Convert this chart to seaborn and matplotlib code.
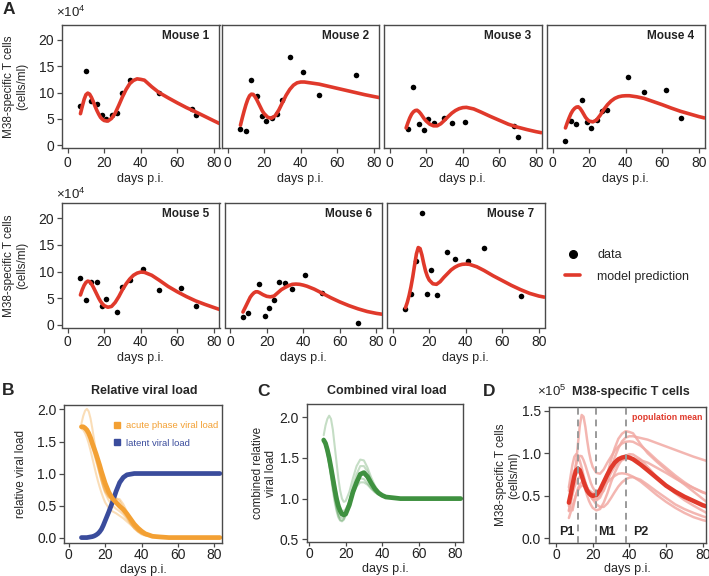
import numpy as np
import pandas as pd
import seaborn as sns
import matplotlib.pyplot as plt
from matplotlib.lines import Line2D

# ---------------- data ----------------
# model curves share one day grid
fit_days = [7, 8, 9, 10, 11, 12, 13, 14, 15, 16, 17, 18, 19, 20, 22, 24, 26, 28, 30,
            32, 34, 36, 38, 40, 42, 46, 50, 55, 60, 65, 70, 75, 80, 83]
nan = np.nan

# panel A: observed M38-specific T cells (x10^4 cells/ml) and model fits
m1_days = [7, 10, 12.5, 16, 19, 21, 24, 27, 30, 34, 50, 68, 70]
m1_obs = [7.5, 14.1, 8.4, 7.8, 5.8, 5.0, 5.7, 6.2, 10.0, 12.4, 9.9, 6.8, 5.8]
m1_fit = [6.0, 7.4, 8.7, 9.6, 9.9, 9.7, 9.1, 8.3, 7.4, 6.6, 5.9, 5.3, 4.95, 4.7, 4.6, 5.1, 6.1,
          7.6, 9.2, 10.6, 11.7, 12.3, 12.6, 12.5, 12.35, 11.1, 10.0, 9.0, 8.05, 7.15, 6.35, 5.5, 4.65, 4.15]

m2_days = [7, 10, 13, 16, 19, 21, 24, 27, 30, 34, 41, 50, 70]
m2_obs = [3.1, 2.8, 12.3, 9.3, 5.5, 4.6, 5.1, 5.9, 8.5, 16.7, 13.9, 9.5, 13.4]
m2_fit = [3.8, 5.2, 6.5, 7.7, 8.7, 9.4, 9.7, 9.65, 9.2, 8.6, 7.9, 7.2, 6.5, 6.0, 5.3, 5.15, 5.6,
          6.7, 8.1, 9.5, 10.6, 11.4, 11.85, 12.0, 12.0, 11.8, 11.6, 11.2, 10.8, 10.4, 10.0, 9.6, 9.25, 9.05]

m3_days = [10, 12.5, 16, 19, 21, 24, 30, 34, 41, 68, 70]
m3_obs = [3.1, 11.1, 4.1, 3.0, 5.0, 4.2, 5.1, 4.3, 4.5, 3.6, 1.6]
m3_fit = [nan, nan, 3.3, 4.3, 5.2, 5.9, 6.35, 6.6, 6.65, 6.4, 6.0, 5.5, 5.0, 4.6, 4.0, 3.7, 3.7,
          4.1, 4.75, 5.45, 6.1, 6.6, 6.95, 7.15, 7.2, 6.9, 6.3, 5.5, 4.75, 4.0, 3.45, 3.0, 2.6, 2.4]

m4_days = [7, 10, 13, 16, 19, 21, 24, 27, 30, 41, 50, 62, 70]
m4_obs = [0.8, 4.7, 4.1, 8.5, 4.5, 3.2, 4.8, 6.5, 6.7, 12.9, 10.2, 10.4, 5.1]
m4_fit = [3.3, 4.3, 5.2, 6.0, 6.6, 7.0, 7.25, 7.3, 7.0, 6.5, 5.9, 5.3, 4.9, 4.6, 4.45, 4.8, 5.7,
          6.8, 7.7, 8.4, 8.9, 9.2, 9.35, 9.4, 9.4, 9.2, 8.9, 8.3, 7.7, 7.05, 6.45, 5.95, 5.45, 5.2]

m5_days = [7, 10, 13, 16, 19, 21, 27, 30, 34, 41, 50, 62, 70]
m5_obs = [8.7, 4.6, 8.0, 8.0, 3.6, 4.9, 2.5, 7.1, 8.4, 10.4, 6.6, 7.0, 3.6]
m5_fit = [5.6, 6.6, 7.4, 7.95, 8.2, 8.1, 7.7, 7.1, 6.4, 5.7, 5.0, 4.4, 3.95, 3.6, 3.3, 3.45, 4.2,
          5.3, 6.6, 7.7, 8.6, 9.3, 9.7, 9.9, 9.85, 9.3, 8.4, 7.2, 6.2, 5.3, 4.5, 3.85, 3.25, 2.9]

m6_days = [7, 10, 16, 19, 21, 24, 27, 30, 34, 41, 50, 70]
m6_obs = [1.5, 2.2, 7.6, 1.6, 3.2, 4.6, 8.0, 7.9, 6.8, 9.3, 6.0, 0.3]
m6_fit = [2.4, 3.1, 3.8, 4.5, 5.2, 5.65, 6.0, 6.2, 6.2, 6.05, 5.85, 5.65, 5.5, 5.35, 5.25, 5.4, 6.0,
          6.6, 7.0, 7.35, 7.6, 7.65, 7.6, 7.45, 7.25, 6.7, 6.0, 5.1, 4.3, 3.6, 3.0, 2.5, 2.15, 2.0]

m7_days = [7, 10, 13, 16, 19, 21, 24, 30, 34, 41, 50, 70]
m7_obs = [2.9, 5.8, 12.0, 20.9, 5.8, 10.3, 5.6, 13.6, 12.3, 11.9, 14.5, 5.5]
m7_fit = [3.2, 4.2, 5.5, 7.1, 9.0, 11.2, 13.3, 14.5, 14.3, 13.1, 11.5, 10.1, 9.1, 8.4, 7.7, 7.6, 8.1,
          8.9, 9.6, 10.3, 10.8, 11.15, 11.35, 11.4, 11.35, 10.9, 10.2, 9.2, 8.3, 7.4, 6.6, 5.9, 5.4, 5.2]

# panel B: relative viral load
acute_mean = [1.73, 1.73, 1.71, 1.68, 1.63, 1.56, 1.47, 1.39, 1.31, 1.22, 1.13, 1.03, 0.94, 0.85, 0.71,
              0.61, 0.55, 0.49, 0.44, 0.37, 0.29, 0.21, 0.15, 0.1, 0.06, 0.02, 0.01, 0, 0, 0, 0, 0, 0, 0]
acute_mice = [
    [1.78, 1.9, 1.98, 2.01, 1.97, 1.86, 1.7, 1.52, 1.33, 1.16, 1.02, 0.9, 0.8, 0.72, 0.63, 0.6, 0.61,
     0.57, 0.46, 0.33, 0.22, 0.14, 0.09, 0.05, 0.03, 0.01, 0, 0, 0, 0, 0, 0, 0, 0],
    [1.72, 1.72, 1.7, 1.66, 1.6, 1.52, 1.43, 1.33, 1.22, 1.11, 1.0, 0.9, 0.81, 0.73, 0.64, 0.6, 0.61,
     0.6, 0.52, 0.4, 0.28, 0.18, 0.11, 0.07, 0.04, 0.02, 0.01, 0, 0, 0, 0, 0, 0, 0],
    [1.7, 1.68, 1.63, 1.56, 1.47, 1.36, 1.24, 1.12, 1.0, 0.89, 0.79, 0.7, 0.62, 0.55, 0.46, 0.41, 0.38,
     0.34, 0.3, 0.25, 0.2, 0.15, 0.1, 0.07, 0.05, 0.02, 0.01, 0, 0, 0, 0, 0, 0, 0],
    [1.75, 1.74, 1.72, 1.68, 1.62, 1.54, 1.45, 1.35, 1.25, 1.14, 1.03, 0.93, 0.84, 0.76, 0.65, 0.57, 0.52,
     0.46, 0.39, 0.31, 0.23, 0.16, 0.1, 0.06, 0.04, 0.02, 0.01, 0, 0, 0, 0, 0, 0, 0],
    [1.72, 1.71, 1.68, 1.63, 1.57, 1.49, 1.4, 1.3, 1.2, 1.1, 0.99, 0.88, 0.78, 0.7, 0.58, 0.5, 0.45,
     0.41, 0.36, 0.29, 0.22, 0.15, 0.1, 0.06, 0.04, 0.02, 0.01, 0, 0, 0, 0, 0, 0, 0],
]
latent = [0, 0, 0, 0, 0.005, 0.01, 0.015, 0.025, 0.04, 0.06, 0.09, 0.13, 0.19, 0.26, 0.4, 0.55, 0.72,
          0.86, 0.94, 0.98, 0.99, 1.0, 1.0, 1.0, 1.0, 1.0, 1.0, 1.0, 1.0, 1.0, 1.0, 1.0, 1.0, 1.0]

# panel C: combined viral load
combined_mean = [nan, 1.72, 1.68, 1.6, 1.5, 1.38, 1.25, 1.12, 1.0, 0.91, 0.85, 0.81, 0.8, 0.81, 0.92,
                 1.08, 1.2, 1.3, 1.32, 1.27, 1.19, 1.12, 1.07, 1.04, 1.02, 1.01, 1.0, 1.0, 1.0, 1.0,
                 1.0, 1.0, 1.0, 1.0]
combined_mice = [
    [nan, 1.78, 1.9, 1.98, 2.02, 1.98, 1.85, 1.65, 1.45, 1.25, 1.1, 1.0, 0.96, 0.97, 1.08, 1.25, 1.4,
     1.48, 1.47, 1.38, 1.26, 1.16, 1.09, 1.05, 1.03, 1.01, 1.0, 1.0, 1.0, 1.0, 1.0, 1.0, 1.0, 1.0],
    [nan, 1.72, 1.66, 1.56, 1.42, 1.26, 1.1, 0.96, 0.85, 0.77, 0.73, 0.72, 0.74, 0.79, 0.95, 1.15, 1.3,
     1.4, 1.4, 1.33, 1.22, 1.13, 1.07, 1.04, 1.02, 1.0, 1.0, 1.0, 1.0, 1.0, 1.0, 1.0, 1.0, 1.0],
    [nan, 1.7, 1.64, 1.55, 1.43, 1.29, 1.14, 1.0, 0.88, 0.79, 0.74, 0.73, 0.75, 0.8, 0.93, 1.06, 1.15,
     1.2, 1.2, 1.17, 1.12, 1.08, 1.05, 1.03, 1.02, 1.01, 1.0, 1.0, 1.0, 1.0, 1.0, 1.0, 1.0, 1.0],
    [nan, 1.74, 1.7, 1.63, 1.54, 1.43, 1.31, 1.18, 1.06, 0.96, 0.89, 0.85, 0.85, 0.87, 0.96, 1.1, 1.22,
     1.29, 1.3, 1.25, 1.18, 1.11, 1.06, 1.03, 1.02, 1.01, 1.0, 1.0, 1.0, 1.0, 1.0, 1.0, 1.0, 1.0],
    [nan, 1.72, 1.67, 1.58, 1.46, 1.32, 1.17, 1.03, 0.91, 0.82, 0.77, 0.76, 0.78, 0.83, 0.97, 1.12, 1.21,
     1.25, 1.24, 1.19, 1.13, 1.08, 1.05, 1.03, 1.02, 1.01, 1.0, 1.0, 1.0, 1.0, 1.0, 1.0, 1.0, 1.0],
]

# panel D: population mean (x10^5 cells/ml); thin lines are the mouse fits above
pop_mean = [0.42, 0.52, 0.63, 0.73, 0.8, 0.82, 0.8, 0.74, 0.67, 0.61, 0.56, 0.53, 0.51, 0.5, 0.51, 0.57,
            0.66, 0.75, 0.83, 0.89, 0.93, 0.95, 0.96, 0.95, 0.93, 0.87, 0.8, 0.71, 0.62, 0.55, 0.49,
            0.44, 0.39, 0.37]
phase_days = [12.0, 21.6, 38.2]
phase_names = ["P1", "M1", "P2"]
phase_label_days = [6.0, 27.5, 46.0]

mouse_names = ["Mouse 1", "Mouse 2", "Mouse 3", "Mouse 4", "Mouse 5", "Mouse 6", "Mouse 7"]
mouse_obs = [(m1_days, m1_obs), (m2_days, m2_obs), (m3_days, m3_obs), (m4_days, m4_obs),
             (m5_days, m5_obs), (m6_days, m6_obs), (m7_days, m7_obs)]
mouse_fits = [m1_fit, m2_fit, m3_fit, m4_fit, m5_fit, m6_fit, m7_fit]

# ---------------- style ----------------
sns.set_style("ticks")
plt.rcParams['font.family'] = ['Liberation Sans', 'DejaVu Sans']
plt.rcParams['mathtext.fontset'] = 'custom'
plt.rcParams['mathtext.rm'] = 'Liberation Sans'
plt.rcParams['mathtext.default'] = 'regular'
plt.rcParams.update({
    "axes.edgecolor": "#4a4a4a", "axes.linewidth": 1.0,
    "xtick.color": "#4a4a4a", "ytick.color": "#4a4a4a",
    "xtick.labelcolor": "#222222", "ytick.labelcolor": "#222222",
    "xtick.major.size": 3.6, "ytick.major.size": 3.6,
    "xtick.major.width": 0.9, "ytick.major.width": 0.9,
    "xtick.major.pad": 2, "ytick.major.pad": 2,
    "xtick.labelsize": 10, "ytick.labelsize": 10,
})

RED = "#e0392b"
ORANGE = "#f3a033"
BLUE = "#3a4c9c"
GREEN = "#3f9140"
PINK = "#f2aaa4"

W, H = 709, 576
fig = plt.figure(figsize=(W / 100, H / 100), dpi=100)


def add_ax(left, top, right, bottom):
    return fig.add_axes([left / W, 1 - bottom / H, (right - left) / W, (bottom - top) / H])


def draw_curve(ax, y, scale=1.0, **kw):
    d = pd.DataFrame({"day": fit_days, "val": np.array(y, dtype=float) * scale}).dropna()
    sns.lineplot(data=d, x="day", y="val", ax=ax, estimator=None, sort=False,
                 solid_capstyle="round", **kw)


def bottom_row_axis(ax):
    # lower panels: tick labels sit close to the frame, x label just below
    ax.tick_params(axis="x", length=3.2, pad=0.8)
    ax.set_xlabel("days p.i.", fontsize=9)
    ax.xaxis.set_label_coords(0.5, -0.152)


# ---------------- panel A ----------------
row_lefts = [[62, 222, 384, 547], [62, 224.5, 387]]
row_tb = [(25, 148), (203.3, 327.5)]
k = 0
for r, lefts in enumerate(row_lefts):
    top, bottom = row_tb[r]
    for j, left in enumerate(lefts):
        ax = add_ax(left, top, left + 157.5, bottom)
        days, obs = mouse_obs[k]
        sns.scatterplot(x=days, y=obs, ax=ax, color="black", s=16, linewidth=0, zorder=2)
        draw_curve(ax, mouse_fits[k], color=RED, lw=2.6, zorder=3)
        ax.set_xlim(-3.1, 83.1)
        ax.set_ylim(-0.5, 22.8)
        ax.set_xticks([0, 20, 40, 60, 80])
        ax.set_xlabel("days p.i.", fontsize=9)
        ax.xaxis.set_label_coords(0.5, -0.2)
        if j == 0:
            ax.set_yticks([0, 5, 10, 15, 20])
            ax.set_ylabel("M38-specific T cells\n(cells/ml)", fontsize=8.5, linespacing=1.1)
            ax.yaxis.set_label_coords(-0.215, 0.5)
        else:
            ax.set_yticks([])
            ax.set_ylabel("")
        ax.text(0.935, 0.91, mouse_names[k], transform=ax.transAxes, ha="right", va="center",
                fontsize=8.5, fontweight="bold", color="#222222")
        k += 1

fig.text(71 / W, 1 - 12 / H, r"$\times10^{4}$", ha="center", va="center", fontsize=9.5, color="#222222")
fig.text(71 / W, 1 - 194 / H, r"$\times10^{4}$", ha="center", va="center", fontsize=9.5, color="#222222")

handles = [Line2D([], [], marker="o", ls="", color="black", markersize=5.5),
           Line2D([], [], color=RED, lw=2.6)]
fig.legend(handles=handles, labels=["data", "model prediction"], loc="upper left",
           bbox_to_anchor=(565 / W, 1 - 249 / H), frameon=False, fontsize=9,
           handlelength=1.2, handletextpad=1.36, labelspacing=0.76, borderpad=0, borderaxespad=0)

# ---------------- panel B ----------------
axB = add_ax(64.3, 405, 221.7, 542.7)
for y in acute_mice:
    draw_curve(axB, y, color=ORANGE, lw=1.5, alpha=0.35)
draw_curve(axB, latent, color=BLUE, lw=3.4)
draw_curve(axB, acute_mean, color=ORANGE, lw=3.4)
axB.set_xlim(-2.4, 84)
axB.set_ylim(-0.08, 2.07)
axB.set_xticks([0, 20, 40, 60, 80])
axB.set_yticks([0, 0.5, 1.0, 1.5, 2.0])
axB.set_yticklabels(["0.0", "0.5", "1.0", "1.5", "2.0"])
bottom_row_axis(axB)
axB.set_ylabel("relative viral load", fontsize=8.5)
axB.yaxis.set_label_coords(-0.237, 0.5)
axB.text(0.506, 1.102, "Relative viral load", transform=axB.transAxes, ha="center", va="center",
         fontsize=9, fontweight="bold")
axB.legend(handles=[Line2D([], [], marker="s", ls="", color=ORANGE, markersize=4.5),
                    Line2D([], [], marker="s", ls="", color=BLUE, markersize=4.5)],
           labels=["acute phase viral load", "latent viral load"], loc="upper left",
           bbox_to_anchor=(0.3126, 0.8816), frameon=False, fontsize=6.8,
           labelcolor=[ORANGE, BLUE], handlelength=0.8, handletextpad=0.5,
           labelspacing=0.9, borderpad=0, borderaxespad=0)

# ---------------- panel C ----------------
axC = add_ax(306.7, 404.3, 463.3, 541.7)
for y in combined_mice:
    draw_curve(axC, y, color=GREEN, lw=1.5, alpha=0.3)
draw_curve(axC, combined_mean, color=GREEN, lw=3.4)
axC.set_xlim(-1.3, 84.4)
axC.set_ylim(0.47, 2.16)
axC.set_xticks([0, 20, 40, 60, 80])
axC.set_yticks([0.5, 1.0, 1.5, 2.0])
axC.set_yticklabels(["0.5", "1.0", "1.5", "2.0"])
bottom_row_axis(axC)
axC.set_ylabel("combined relative\nviral load", fontsize=8.5, linespacing=1.1)
axC.yaxis.set_label_coords(-0.19, 0.5)
axC.text(0.511, 1.097, "Combined viral load", transform=axC.transAxes, ha="center", va="center",
         fontsize=9, fontweight="bold")

# ---------------- panel D ----------------
axD = add_ax(548.7, 407.3, 706, 542.7)
for y in mouse_fits:
    draw_curve(axD, y, scale=0.1, color=PINK, lw=1.8, alpha=0.85)
draw_curve(axD, pop_mean, color=RED, lw=3.2)
for d in phase_days:
    axD.axvline(d, color="#9a9a9a", lw=1.4, ls=(0, (3.5, 2.5)), zorder=4)
for name, d in zip(phase_names, phase_label_days):
    axD.text(d, 0.07, name, ha="center", va="center", fontsize=9, fontweight="bold", color="#222222")
axD.text(41.3, 1.42, "population mean", ha="left", va="center", fontsize=6.3, fontweight="bold",
         color=RED)
axD.set_xlim(-4, 81.8)
axD.set_ylim(-0.05, 1.54)
axD.set_xticks([0, 20, 40, 60, 80])
axD.set_yticks([0, 0.5, 1.0, 1.5])
axD.set_yticklabels(["0.0", "0.5", "1.0", "1.5"])
bottom_row_axis(axD)
axD.set_ylabel("M38-specific T cells\n(cells/ml)", fontsize=8.5, linespacing=1.1)
axD.yaxis.set_label_coords(-0.182, 0.5)
axD.text(0.523, 1.115, "M38-specific T cells", transform=axD.transAxes, ha="center", va="center",
         fontsize=9, fontweight="bold")
axD.text(0.021, 1.115, r"$\times10^{5}$", transform=axD.transAxes, ha="center", va="center",
         fontsize=9.5)

# panel letters
for letter, x, y in [("A", 9, 10), ("B", 8, 390.5), ("C", 263, 392), ("D", 489, 391.7)]:
    fig.text(x / W, 1 - y / H, letter, ha="center", va="center", fontsize=12.5, fontweight="bold")

fig.savefig("out.png", dpi=100)
